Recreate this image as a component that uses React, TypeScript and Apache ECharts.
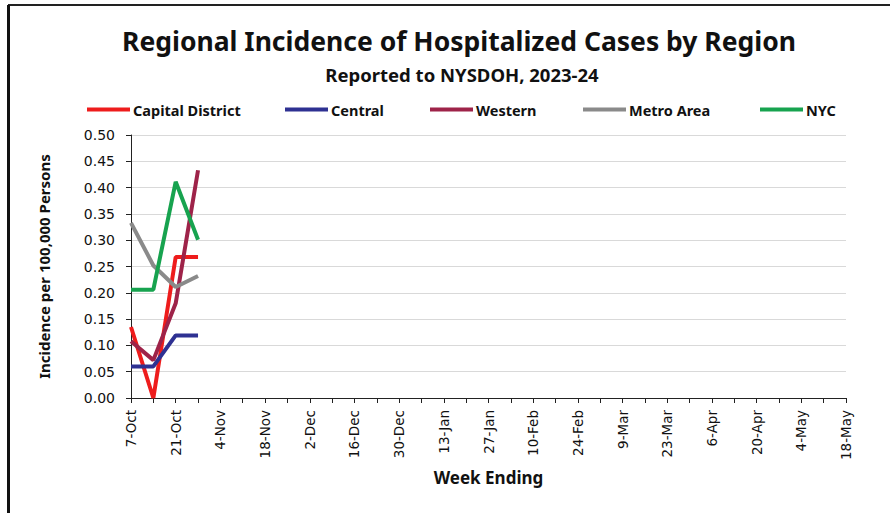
import React, { useEffect, useRef } from "react";
import * as echarts from "echarts";

const weeks: string[] = [
  "7-Oct", "14-Oct", "21-Oct", "28-Oct", "4-Nov", "11-Nov", "18-Nov", "25-Nov",
  "2-Dec", "9-Dec", "16-Dec", "23-Dec", "30-Dec", "6-Jan", "13-Jan", "20-Jan",
  "27-Jan", "3-Feb", "10-Feb", "17-Feb", "24-Feb", "2-Mar", "9-Mar", "16-Mar",
  "23-Mar", "30-Mar", "6-Apr", "13-Apr", "20-Apr", "27-Apr", "4-May", "11-May", "18-May",
];

const capitalDistrict: number[] = [0.135, 0.0, 0.268, 0.268];
const central: number[] = [0.06, 0.06, 0.119, 0.119];
const western: number[] = [0.108, 0.072, 0.18, 0.433];
const metroArea: number[] = [0.333, 0.252, 0.211, 0.232];
const nyc: number[] = [0.206, 0.206, 0.411, 0.301];

const seriesNames: string[] = ["Capital District", "Central", "Western", "Metro Area", "NYC"];
const seriesValues: number[][] = [capitalDistrict, central, western, metroArea, nyc];
const seriesColors: string[] = ["#ee1c1c", "#2e3192", "#9e2349", "#8a8a8a", "#17a34f"];
const legendLefts: number[] = [87, 285, 430, 583, 760];

export default function App() {
  const ref = useRef<HTMLDivElement>(null);
  useEffect(() => {
    if (!ref.current) return;
    const chart = echarts.init(ref.current, undefined, { renderer: "svg" });
    const font = "'Noto Sans', sans-serif";
    const axisFont = "'DejaVu Sans', sans-serif";
    chart.setOption({
      animation: false,
      backgroundColor: "#ffffff",
      title: [
        {
          text: "Regional Incidence of Hospitalized Cases by Region",
          left: 454,
          top: 22,
          textAlign: "center",
          textStyle: { fontFamily: font, fontSize: 26.5, fontWeight: "bold", color: "#111" },
        },
        {
          text: "Reported to NYSDOH, 2023-24",
          left: 457,
          top: 60,
          textAlign: "center",
          textStyle: { fontFamily: font, fontSize: 18.5, fontWeight: "bold", color: "#111" },
        },
      ],
      legend: seriesNames.map((name, i) => ({
        data: [name],
        left: legendLefts[i],
        top: 102,
        icon: "rect",
        itemWidth: 43,
        itemHeight: 4,
        itemGap: 0,
        padding: 0,
        textStyle: { fontFamily: font, fontSize: 14.5, fontWeight: "bold", color: "#111", padding: [0, 0, 0, -2] },
      })),
      grid: { left: 131, top: 135, width: 715, height: 263, containLabel: false },
      xAxis: {
        type: "category",
        data: weeks,
        boundaryGap: false,
        name: "Week Ending",
        nameLocation: "middle",
        nameGap: 71,
        nameTextStyle: { fontFamily: font, fontSize: 17, fontWeight: "bold", color: "#111" },
        axisLine: { lineStyle: { color: "#222", width: 1 } },
        axisTick: { show: true, interval: 0, length: 5, lineStyle: { color: "#222" } },
        axisLabel: {
          interval: 1,
          rotate: 90,
          margin: 12,
          fontFamily: axisFont,
          fontSize: 13.5,
          color: "#111",
        },
        splitLine: { show: false },
      },
      yAxis: {
        type: "value",
        min: 0,
        max: 0.5,
        interval: 0.05,
        name: "Incidence per 100,000 Persons",
        nameLocation: "middle",
        nameRotate: 90,
        nameGap: 80,
        nameTextStyle: { fontFamily: font, fontSize: 15, fontWeight: "bold", color: "#111" },
        axisLine: { show: true, lineStyle: { color: "#222", width: 1 } },
        axisTick: { show: true, length: 5, lineStyle: { color: "#222" } },
        axisLabel: {
          margin: 16,
          fontFamily: axisFont,
          fontSize: 14,
          color: "#111",
          formatter: (v: number) => v.toFixed(2),
        },
        splitLine: { show: true, lineStyle: { color: "#d9d9d9", width: 1 } },
      },
      series: seriesNames.map((name, i) => ({
        name,
        type: "line",
        data: seriesValues[i],
        showSymbol: false,
        symbol: "none",
        lineStyle: { color: seriesColors[i], width: 4 },
        itemStyle: { color: seriesColors[i] },
      })),
      graphic: [
        { type: "line", shape: { x1: 8, y1: 5, x2: 890, y2: 5 }, style: { stroke: "#222", lineWidth: 2 } },
        { type: "line", shape: { x1: 8.5, y1: 5, x2: 8.5, y2: 513 }, style: { stroke: "#111", lineWidth: 3 } },
      ],
    });
    return () => chart.dispose();
  }, []);
  return (
    <div
      ref={ref}
      style={{ position: "absolute", left: 0, top: 0, width: 890, height: 513 }}
    />
  );
}
